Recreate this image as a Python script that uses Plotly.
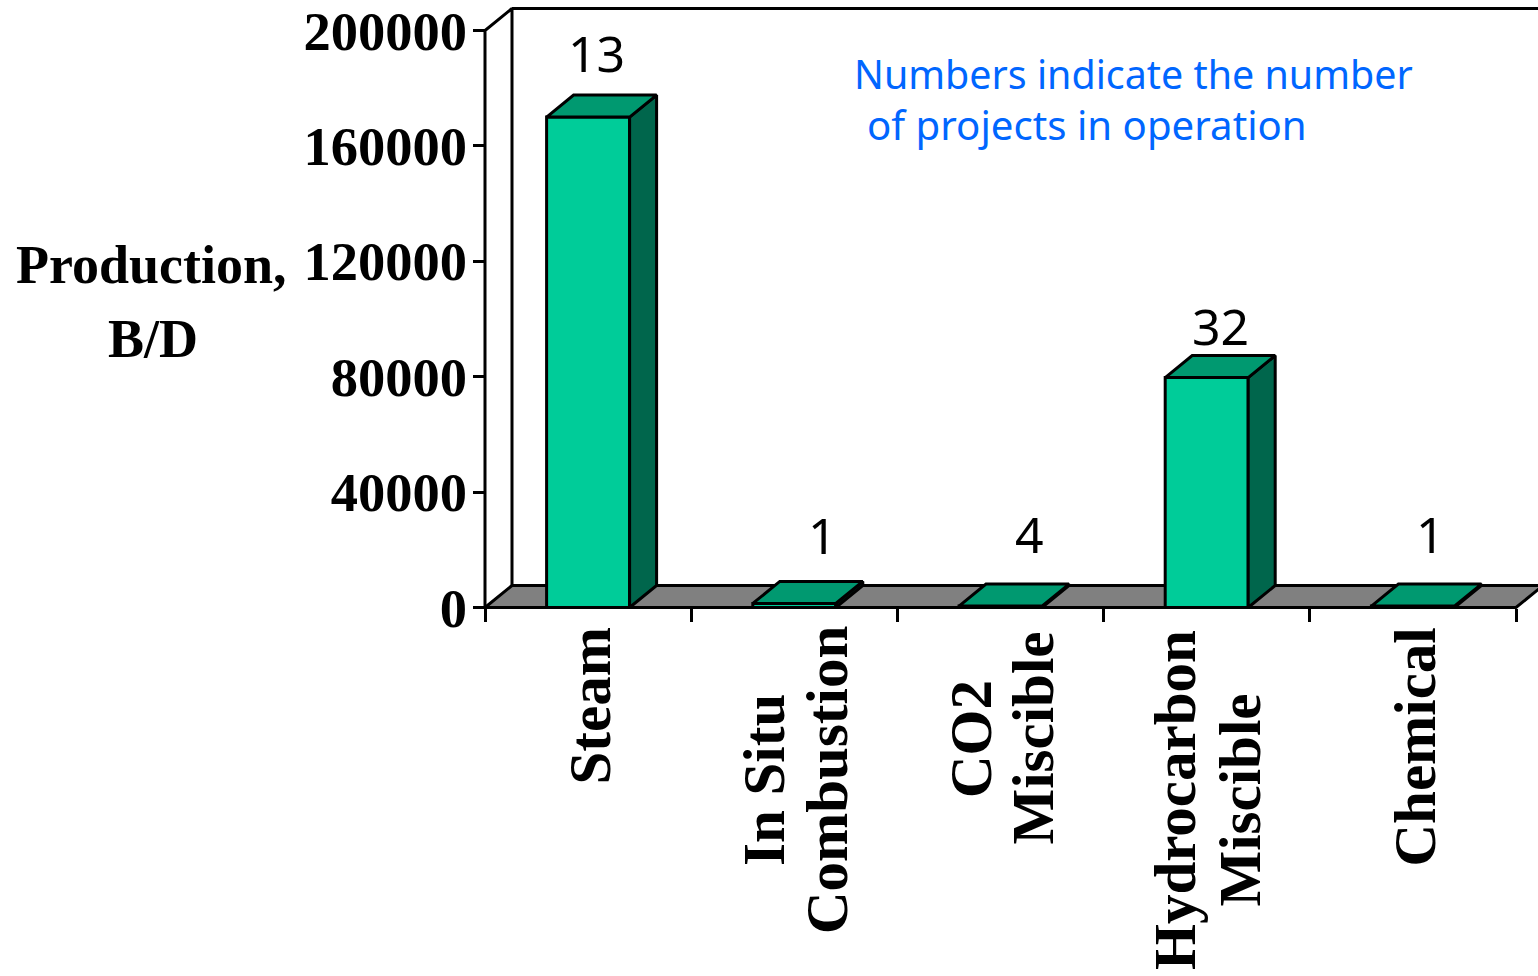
import plotly.graph_objects as go

# ---- data ----
categories = [["Steam"], ["In Situ", "Combustion"], ["CO2", "Miscible"], ["Hydrocarbon", "Miscible"], ["Chemical"]]
production = [170000, 1400, 500, 79700, 500]
project_counts = ["13", "1", "4", "32", "1"]
y_ticks = [0, 40000, 80000, 120000, 160000, 200000]
note_lines = ["Numbers indicate the number", " of projects in operation"]
y_title = ["Production,", "B/D"]

# ---- geometry / style ----
W, H = 1538, 976
X0, STEP = 485.0, 206.2
Y0, PX_PER = 607.5, 577.0 / 200000
BAR_W = 83 / STEP
DX = 27 / STEP
DY = 22 / PX_PER
LW = 3
FRONT, TOP, SIDE, FLOOR = "#00CC99", "#009970", "#00664C", "#808080"
SERIF = "Liberation Serif"
SANS = "Noto Sans"
count_dx = [8, 28, 29, 14, 18]
count_y_px = [53, 535, 534, 326, 534]
label_x_px = [[589], [764, 827], [971, 1032], [1175, 1239], [1414]]
label_top_px = [[626], [692, 624], [678, 630], [628, 692], [626]]

xr = [-0.5 - X0 / STEP, -0.5 + (W - X0) / STEP]
yr = [(Y0 - H) / PX_PER, Y0 / PX_PER]
left, right = -0.5, len(categories) - 0.5

fig = go.Figure()


def poly(xs, ys, fill):
    fig.add_trace(go.Scatter(x=xs, y=ys, mode="lines", fill="toself", fillcolor=fill,
                             line=dict(color="black", width=LW),
                             hoverinfo="skip", showlegend=False))


def line(xs, ys):
    fig.add_trace(go.Scatter(x=xs, y=ys, mode="lines", line=dict(color="black", width=LW),
                             hoverinfo="skip", showlegend=False))


# floor (below the bars) and walls
floor_shape = dict(type="path", xref="x", yref="y", layer="below", fillcolor=FLOOR,
                   line=dict(color="black", width=LW),
                   path=f"M {left} 0 L {left + DX} {DY} L {right + DX} {DY} L {right} 0 Z")
line([left, left, left + DX, left + DX], [0, y_ticks[-1], y_ticks[-1] + DY, DY])
line([left + DX, xr[1]], [y_ticks[-1] + DY, y_ticks[-1] + DY])

# 3-D faces of the bars
for i, v in enumerate(production):
    a, b = i - BAR_W / 2, i + BAR_W / 2
    poly([b, b + DX, b + DX, b, b], [0, DY, v + DY, v, 0], SIDE)
    poly([a, b, b + DX, a + DX, a], [v, v, v + DY, v + DY, v], TOP)

fig.add_trace(go.Bar(x=list(range(len(production))), y=production, width=BAR_W,
                     marker=dict(color=FRONT, line=dict(color="black", width=LW)),
                     hoverinfo="skip", showlegend=False))

line([left, right], [0, 0])

anns = []
for i, c in enumerate(project_counts):
    anns.append(dict(x=i, y=1 - count_y_px[i] / H, xref="x", yref="paper", text=c, showarrow=False,
                     xshift=count_dx[i], font=dict(family=SANS, size=50, color="black"),
                     xanchor="center", yanchor="middle"))

for i, lines in enumerate(categories):
    for j, t in enumerate(lines):
        anns.append(dict(x=label_x_px[i][j] / W, y=1 - label_top_px[i][j] / H, xref="paper", yref="paper",
                         text=t, showarrow=False, textangle=-90, xanchor="center", yanchor="top",
                         font=dict(family=SERIF, size=59, color="black", weight="bold")))

for t, py, px, fs in zip(note_lines, [74, 125], [852, 865], [39.4, 40.2]):
    anns.append(dict(x=px / W, y=1 - py / H, xref="paper", yref="paper", text=t.strip(), showarrow=False,
                     xanchor="left", yanchor="middle", font=dict(family=SANS, size=fs, color="#0066FF")))

for t, py, px in zip(y_title, [265, 339], [151, 153]):
    anns.append(dict(x=px / W, y=1 - py / H, xref="paper", yref="paper", text=t, showarrow=False,
                     xanchor="center", yanchor="middle", font=dict(family=SERIF, size=54, color="black", weight="bold")))

fig.update_layout(
    width=W, height=H, margin=dict(l=0, r=0, t=0, b=0), autosize=False,
    paper_bgcolor="white", plot_bgcolor="white", showlegend=False, annotations=anns, shapes=[floor_shape],
    xaxis=dict(range=xr, domain=[0, 1], anchor="free", position=1 - Y0 / H, showgrid=False, zeroline=False,
               showline=False, tickmode="array", tickvals=[k - 0.5 for k in range(len(categories) + 1)],
               ticktext=[""] * (len(categories) + 1), ticks="outside", ticklen=13, tickwidth=LW, tickcolor="black"),
    yaxis=dict(range=yr, domain=[0, 1], anchor="free", position=X0 / W, showgrid=False, zeroline=False,
               showline=False, tickmode="array", tickvals=y_ticks, ticktext=[str(v) for v in y_ticks],
               ticks="outside", ticklen=12, tickwidth=LW, tickcolor="black", ticklabelstandoff=-5,
               tickfont=dict(family=SERIF, size=54.5, color="black", weight="bold")),
)
fig.write_html("out.html", post_script="document.body.style.margin='0';", config={"displayModeBar": False})
